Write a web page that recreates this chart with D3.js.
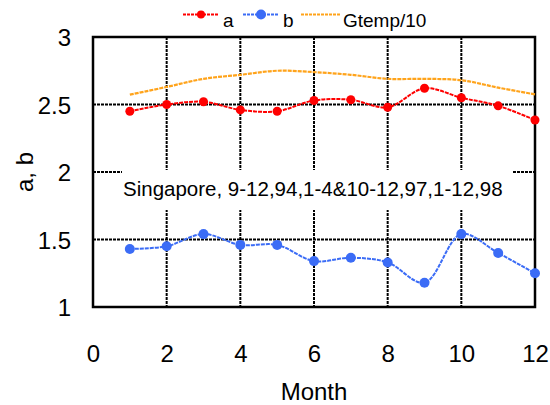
<!DOCTYPE html>
<html>
<head>
<meta charset="utf-8">
<script src="https://cdn.jsdelivr.net/npm/d3@7"></script>
<style>
  html, body { margin: 0; padding: 0; background: #fff; }
  svg text { font-family: "Liberation Sans", Arial, sans-serif; fill: #000; }
</style>
</head>
<body>
<svg id="chart" width="550" height="405"></svg>
<script>
const months = [1, 2, 3, 4, 5, 6, 7, 8, 9, 10, 11, 12];
const seriesA = [2.45, 2.50, 2.52, 2.46, 2.45, 2.53, 2.535, 2.48, 2.62, 2.55, 2.49, 2.385];
const seriesB = [1.43, 1.45, 1.54, 1.46, 1.46, 1.34, 1.365, 1.33, 1.18, 1.54, 1.40, 1.25];
const gtemp10 = [2.573, 2.63, 2.69, 2.72, 2.75, 2.74, 2.72, 2.69, 2.69, 2.68, 2.625, 2.575];
const xTicks = [0, 2, 4, 6, 8, 10, 12];
const yTicks = [1, 1.5, 2, 2.5, 3];
const gridX = [2, 4, 6, 8, 10];
const gridY = [1.5, 2, 2.5];
const seriesNames = ["a", "b", "Gtemp/10"];
const annotation = "Singapore, 9-12,94,1-4&10-12,97,1-12,98";

const svg = d3.select("#chart");
const L = 93, R = 535, T = 37, B = 307;
const x = d3.scaleLinear().domain([0, 12]).range([L, R]);
const y = d3.scaleLinear().domain([1, 3]).range([B, T]);

const colA = "#ff0000", colB = "#3b6cf6", colG = "#ffa31a";

// grid
const grid = svg.append("g");
grid.selectAll("line.gx").data(gridX).join("line")
  .attr("x1", d => x(d)).attr("x2", d => x(d)).attr("y1", T).attr("y2", B)
  .attr("stroke", "#000").attr("stroke-width", 2).attr("stroke-dasharray", "3,1");
grid.selectAll("line.gy").data(gridY).join("line")
  .attr("x1", L).attr("x2", R).attr("y1", d => y(d)).attr("y2", d => y(d))
  .attr("stroke", "#000").attr("stroke-width", 2).attr("stroke-dasharray", "3,1");

// annotation box (covers grid)
svg.append("rect").attr("x", 122).attr("y", 170).attr("width", 391).attr("height", 40).attr("fill", "#fff");
svg.append("text").attr("x", 123).attr("y", 196).attr("text-anchor", "start")
  .style("font-size", "20.5px").text(annotation);

// frame
svg.append("rect").attr("x", L).attr("y", T).attr("width", R - L).attr("height", B - T)
  .attr("fill", "none").attr("stroke", "#000").attr("stroke-width", 2.5);

// axes
const xAxis = d3.axisBottom(x).tickValues(xTicks).tickSize(0).tickPadding(0);
const gx = svg.append("g").attr("transform", `translate(0,${B})`).call(xAxis);
gx.select(".domain").remove();
gx.selectAll("text").attr("y", 55).attr("dy", null).style("font-size", "24px");

const yAxis = d3.axisLeft(y).tickValues(yTicks).tickSize(0).tickFormat(d3.format("~g"));
const gy = svg.append("g").attr("transform", `translate(${L},0)`).call(yAxis);
gy.select(".domain").remove();
gy.selectAll("text").attr("x", -22).attr("dy", "0.36em").style("font-size", "24px");

svg.append("text").attr("x", (L + R) / 2).attr("y", 400).attr("text-anchor", "middle")
  .style("font-size", "24px").text("Month");
svg.append("text").attr("transform", `translate(33,${y(2)}) rotate(-90)`).attr("text-anchor", "middle")
  .style("font-size", "24px").text("a, b");

// lines
const line = d3.line().x(d => x(d[0])).y(d => y(d[1])).curve(d3.curveCatmullRom.alpha(0.5));
const zipA = months.map((m, i) => [m, seriesA[i]]);
const zipB = months.map((m, i) => [m, seriesB[i]]);
const zipG = months.map((m, i) => [m, gtemp10[i]]);

svg.append("path").attr("d", line(zipG)).attr("fill", "none").attr("stroke", colG)
  .attr("stroke-width", 2.2).attr("stroke-dasharray", "4,1");
svg.append("path").attr("d", line(zipA)).attr("fill", "none").attr("stroke", colA)
  .attr("stroke-width", 2).attr("stroke-dasharray", "4,1");
svg.append("path").attr("d", line(zipB)).attr("fill", "none").attr("stroke", colB)
  .attr("stroke-width", 2).attr("stroke-dasharray", "4,1");

svg.append("g").selectAll("circle").data(zipA).join("circle")
  .attr("cx", d => x(d[0])).attr("cy", d => y(d[1])).attr("r", 4.5).attr("fill", colA);
svg.append("g").selectAll("circle").data(zipB).join("circle")
  .attr("cx", d => x(d[0])).attr("cy", d => y(d[1])).attr("r", 5).attr("fill", colB);

// legend
const legendItems = [
  { name: seriesNames[0], color: colA, x0: 183, x1: 219, tx: 223, marker: 4 },
  { name: seriesNames[1], color: colB, x0: 243, x1: 279, tx: 283, marker: 5 },
  { name: seriesNames[2], color: colG, x0: 301, x1: 341, tx: 343, marker: 0 }
];
const lg = svg.append("g");
legendItems.forEach(it => {
  lg.append("line").attr("x1", it.x0).attr("x2", it.x1).attr("y1", 14.5).attr("y2", 14.5)
    .attr("stroke", it.color).attr("stroke-width", 2).attr("stroke-dasharray", "3,1");
  if (it.marker) lg.append("circle").attr("cx", (it.x0 + it.x1) / 2).attr("cy", 14.5)
    .attr("r", it.marker).attr("fill", it.color);
  lg.append("text").attr("x", it.tx).attr("y", 27).style("font-size", "19px").text(it.name);
});
</script>
</body>
</html>
